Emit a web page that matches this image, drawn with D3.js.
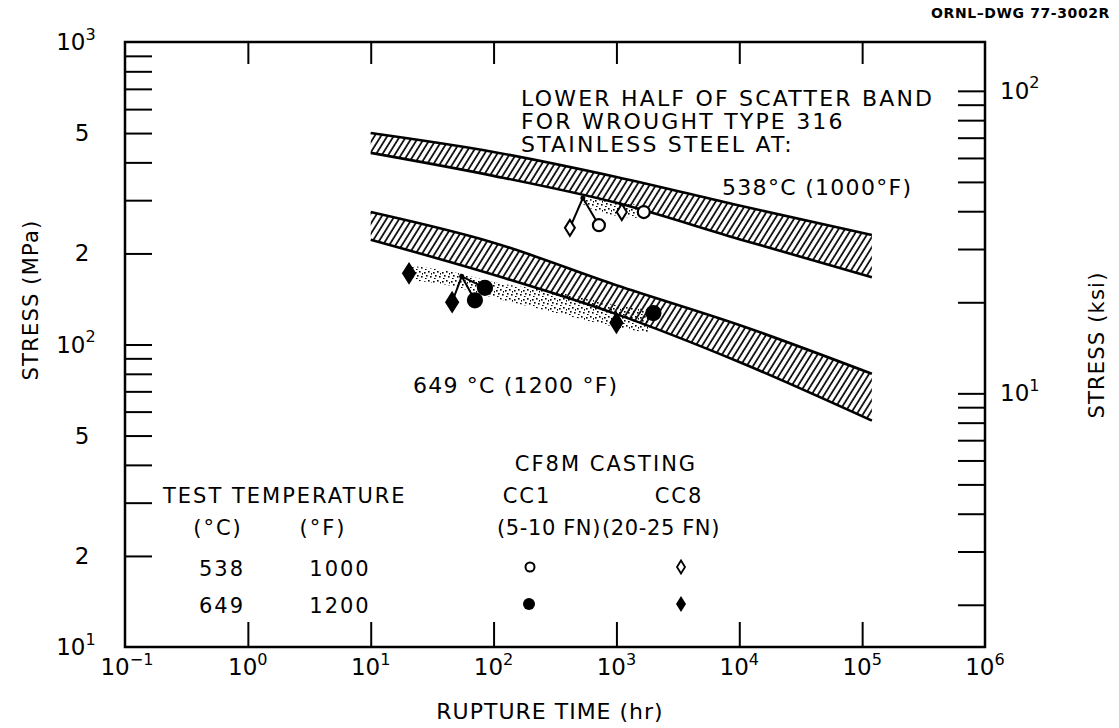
<!DOCTYPE html>
<html>
<head>
<meta charset="utf-8">
<script src="https://cdn.jsdelivr.net/npm/d3@7"></script>
<style>
  body { margin: 0; background: #fff; }
  svg text { font-family: "DejaVu Sans", sans-serif; fill: #000; }
</style>
</head>
<body>
<svg id="chart" width="1119" height="728"></svg>
<script>
// ---- data ----
const timeDecades = [-1, 0, 1, 2, 3, 4, 5, 6];
const timeTicks = [1, 10, 100, 1000, 10000, 100000];
const mpaTicks = [20, 30, 40, 50, 60, 70, 80, 90, 100, 200, 300, 400, 500, 600, 700, 800, 900];
const mpaLabelValues = [1000, 500, 200, 100, 50, 20, 10];
const mpaLabelText = ["10^3", "5", "2", "10^2", "5", "2", "10^1"];
const ksiTicks = [2, 3, 4, 5, 6, 7, 8, 9, 10, 20, 30, 40, 50, 60, 70, 80, 90, 100];
const ksiLabelValues = [100, 10];
const ksiLabelText = ["10^2", "10^1"];
const MPA_PER_KSI = 6.895;

// scatter bands for wrought type 316 (lower half), MPa
const bandTimes = [10, 100, 1000, 10000, 120000];
const band538Top = [500, 433, 358, 288, 230];
const band538Bottom = [430, 361, 294, 223, 167];
const band649Top = [274, 217, 157, 116, 80];
const band649Bottom = [222, 170, 126, 87.5, 56];

// stippled CF8M scatter
const stipple538Times = [540, 733, 1550, 1750];
const stipple538Top = [303, 300, 289, 285];
const stipple538Bottom = [290, 274, 262, 262];
const stipple649Times = [20.9, 40, 106, 327, 1000, 1860];
const stipple649Top = [182, 176, 160, 149, 135, 130];
const stipple649Bottom = [163, 158, 142, 127, 114, 109];

// rupture points [time hr, stress MPa]
const cc1At538 = [[1670, 274]];
const cc8At538 = [[1106, 274]];
const cc1At649 = [[2000, 127]];
const cc8At649 = [[20.5, 172], [1000, 118]];
// coincident points, drawn displaced and tied to their true location
const cluster538Anchor = [533, 305];
const cluster538CC1 = [[720, 248]];
const cluster538CC8 = [[418, 243]];
const cluster649Anchor = [55, 168];
const cluster649CC1 = [[70.5, 140], [85, 154]];
const cluster649CC8 = [[46, 138]];

// legend
const legendC = ["538", "649"];
const legendF = ["1000", "1200"];

// ---- layout ----
const svg = d3.select("#chart");
const plotLeft = 125, plotRight = 985, plotTop = 42, plotBottom = 647;

const x = d3.scaleLog().domain([0.1, 1e6]).range([plotLeft, plotRight]);
const y = d3.scaleLog().domain([10, 1000]).range([plotBottom, plotTop]);
const yKsi = d3.scaleLog().domain([10 / MPA_PER_KSI, 1000 / MPA_PER_KSI]).range([plotBottom, plotTop]);

svg.append("rect").attr("width", 1119).attr("height", 728).attr("fill", "#fff");

const defs = svg.append("defs");
const hatch = defs.append("pattern")
    .attr("id", "hatch")
    .attr("patternUnits", "userSpaceOnUse")
    .attr("width", 5.4).attr("height", 10)
    .attr("patternTransform", "rotate(32)");
hatch.append("line")
    .attr("x1", 1).attr("y1", 0).attr("x2", 1).attr("y2", 10)
    .attr("stroke", "#000").attr("stroke-width", 1.7);

const stip = defs.append("pattern")
    .attr("id", "stipple")
    .attr("patternUnits", "userSpaceOnUse")
    .attr("width", 9).attr("height", 9);
[[1, 2], [5, 1], [3, 5], [7, 6], [2, 8], [8, 3]].forEach(d => {
    stip.append("rect").attr("x", d[0]).attr("y", d[1])
        .attr("width", 1.6).attr("height", 1.6).attr("fill", "#000");
});

function bandArea(times, hi, lo) {
    return d3.area()
        .x((d, i) => x(times[i]))
        .y0((d, i) => y(lo[i]))
        .y1((d, i) => y(hi[i]))
        .curve(d3.curveMonotoneX)(times);
}
function edgeLine(times, vals) {
    return d3.line()
        .x((d, i) => x(times[i]))
        .y((d, i) => y(vals[i]))
        .curve(d3.curveMonotoneX)(times);
}

// stipple regions
svg.append("path").attr("d", bandArea(stipple538Times, stipple538Top, stipple538Bottom))
    .attr("fill", "url(#stipple)");
svg.append("path").attr("d", bandArea(stipple649Times, stipple649Top, stipple649Bottom))
    .attr("fill", "url(#stipple)");

// hatched bands
[[band538Top, band538Bottom], [band649Top, band649Bottom]].forEach(b => {
    svg.append("path").attr("d", bandArea(bandTimes, b[0], b[1]))
        .attr("fill", "url(#hatch)");
    b.forEach(edge => {
        svg.append("path").attr("d", edgeLine(bandTimes, edge))
            .attr("fill", "none").attr("stroke", "#000").attr("stroke-width", 2.6);
    });
});

// markers
const diamond = (w, h) => `M0,${-h}L${w},0L0,${h}L${-w},0Z`;

function drawCircles(data, r, filled) {
    svg.append("g").selectAll("circle").data(data).join("circle")
        .attr("cx", d => x(d[0])).attr("cy", d => y(d[1])).attr("r", r)
        .attr("fill", filled ? "#000" : "#fff")
        .attr("stroke", "#000").attr("stroke-width", 2.2);
}
function drawDiamonds(data, w, h, filled) {
    svg.append("g").selectAll("path").data(data).join("path")
        .attr("transform", d => `translate(${x(d[0])},${y(d[1])})`)
        .attr("d", diamond(w, h))
        .attr("fill", filled ? "#000" : "#fff")
        .attr("stroke", "#000").attr("stroke-width", 2);
}
function drawCluster(anchor, groups) {
    const g = svg.append("g");
    groups.flat().forEach(p => {
        g.append("line")
            .attr("x1", x(anchor[0])).attr("y1", y(anchor[1]))
            .attr("x2", x(p[0])).attr("y2", y(p[1]))
            .attr("stroke", "#000").attr("stroke-width", 2);
    });
    g.append("circle").attr("cx", x(anchor[0])).attr("cy", y(anchor[1]))
        .attr("r", 2.5).attr("fill", "#000");
}

drawCluster(cluster538Anchor, [cluster538CC1, cluster538CC8]);
drawCluster(cluster649Anchor, [cluster649CC1, cluster649CC8]);

drawCircles(cc1At538.concat(cluster538CC1), 6, false);
drawDiamonds(cc8At538.concat(cluster538CC8), 5, 8, false);
drawCircles(cc1At649.concat(cluster649CC1), 7, true);
drawDiamonds(cc8At649.concat(cluster649CC8), 6, 9.5, true);

// ---- axes ----
function cleanAxis(g) {
    g.select(".domain").remove();
    g.selectAll(".tick line").attr("stroke", "#000").attr("stroke-width", 2);
}
svg.append("g").attr("transform", `translate(${plotLeft},0)`)
    .call(d3.axisLeft(y).tickValues(mpaTicks).tickSize(-27).tickFormat(""))
    .call(cleanAxis);
svg.append("g").attr("transform", `translate(${plotRight},0)`)
    .call(d3.axisRight(yKsi).tickValues(ksiTicks).tickSize(-27).tickFormat(""))
    .call(cleanAxis);
svg.append("g").attr("transform", `translate(0,${plotBottom})`)
    .call(d3.axisBottom(x).tickValues(timeTicks).tickSize(-25).tickFormat(""))
    .call(cleanAxis);
svg.append("g").attr("transform", `translate(0,${plotTop})`)
    .call(d3.axisTop(x).tickValues(timeTicks).tickSize(-22).tickFormat(""))
    .call(cleanAxis);

svg.append("rect")
    .attr("x", plotLeft).attr("y", plotTop)
    .attr("width", plotRight - plotLeft).attr("height", plotBottom - plotTop)
    .attr("fill", "none").attr("stroke", "#000").attr("stroke-width", 2.5);

// power-of-ten labels
function powerLabel(sel, str, size) {
    const parts = str.split("^");
    sel.text(parts[0]);
    if (parts[1] !== undefined) {
        sel.append("tspan").attr("dy", -size * 0.45)
            .attr("font-size", size * 0.7).text(parts[1]);
    }
}

svg.append("g").selectAll("text").data(timeDecades).join("text")
    .attr("x", d => x(Math.pow(10, d)) + (d < 0 ? 2 : 0))
    .attr("y", 675)
    .attr("text-anchor", "middle")
    .attr("font-size", 23)
    .each(function (d) { powerLabel(d3.select(this), "10^" + d.toString().replace("-", "\u2212"), 23); });

svg.append("g").selectAll("text").data(mpaLabelValues).join("text")
    .attr("x", (d, i) => mpaLabelText[i].includes("^") ? 76 : 82)
    .attr("y", d => y(d) + 8)
    .attr("text-anchor", "middle")
    .attr("font-size", 23)
    .each(function (d, i) { powerLabel(d3.select(this), mpaLabelText[i], 23); });

svg.append("g").selectAll("text").data(ksiLabelValues).join("text")
    .attr("x", 1000)
    .attr("y", d => yKsi(d) + 8)
    .attr("font-size", 23)
    .each(function (d, i) { powerLabel(d3.select(this), ksiLabelText[i], 23); });

// axis titles
svg.append("text")
    .attr("transform", "translate(38,300) rotate(-90)")
    .attr("text-anchor", "middle").attr("font-size", 21).attr("letter-spacing", 1.2)
    .text("STRESS (MPa)");
svg.append("text")
    .attr("transform", "translate(1104,345) rotate(-90)")
    .attr("text-anchor", "middle").attr("font-size", 21).attr("letter-spacing", 1.2)
    .text("STRESS (ksi)");
svg.append("text")
    .attr("x", 550).attr("y", 719)
    .attr("text-anchor", "middle").attr("font-size", 22).attr("letter-spacing", 1)
    .text("RUPTURE TIME (hr)");
svg.append("text")
    .attr("x", 1110).attr("y", 18)
    .attr("text-anchor", "end").attr("font-size", 14).attr("font-weight", "bold")
    .attr("letter-spacing", 0.6)
    .text("ORNL\u2013DWG 77-3002R");

// annotations
const note = svg.append("g").attr("font-size", 22);
["LOWER HALF OF SCATTER BAND", "FOR WROUGHT TYPE 316", "STAINLESS STEEL AT:"].forEach((t, i) => {
    note.append("text").attr("x", 521).attr("y", 106 + i * 23)
        .attr("letter-spacing", 2.2).text(t);
});
note.append("text").attr("x", 722).attr("y", 195).attr("letter-spacing", 1.3).text("538°C (1000°F)");
note.append("text").attr("x", 413).attr("y", 393).attr("letter-spacing", 1.2).text("649 °C (1200 °F)");

// legend
const leg = svg.append("g").attr("font-size", 21).attr("letter-spacing", 2);
leg.append("text").attr("x", 606).attr("y", 471).attr("text-anchor", "middle").text("CF8M CASTING");
leg.append("text").attr("x", 163).attr("y", 503).text("TEST TEMPERATURE");
leg.append("text").attr("x", 527).attr("y", 503).attr("text-anchor", "middle").text("CC1");
leg.append("text").attr("x", 679).attr("y", 503).attr("text-anchor", "middle").text("CC8");
leg.append("text").attr("x", 218).attr("y", 535).attr("text-anchor", "middle").text("(°C)");
leg.append("text").attr("x", 323).attr("y", 535).attr("text-anchor", "middle").text("(°F)");
leg.append("text").attr("x", 549).attr("y", 535).attr("text-anchor", "middle").attr("letter-spacing", 0.6).text("(5-10 FN)");
leg.append("text").attr("x", 661).attr("y", 535).attr("text-anchor", "middle").attr("letter-spacing", 0.6).text("(20-25 FN)");
leg.selectAll(".lc").data(legendC).join("text")
    .attr("x", 222).attr("y", (d, i) => 576 + i * 37).attr("text-anchor", "middle").text(d => d);
leg.selectAll(".lf").data(legendF).join("text")
    .attr("x", 340).attr("y", (d, i) => 576 + i * 37).attr("text-anchor", "middle").text(d => d);

// legend symbols
const legSym = svg.append("g");
legSym.append("circle").attr("cx", 530).attr("cy", 567).attr("r", 4.5)
    .attr("fill", "#fff").attr("stroke", "#000").attr("stroke-width", 2);
legSym.append("path").attr("transform", "translate(681,567)").attr("d", diamond(4, 6.5))
    .attr("fill", "#fff").attr("stroke", "#000").attr("stroke-width", 1.8);
legSym.append("circle").attr("cx", 529).attr("cy", 604).attr("r", 6).attr("fill", "#000");
legSym.append("path").attr("transform", "translate(681,604)").attr("d", diamond(5, 8)).attr("fill", "#000");
</script>
</body>
</html>
